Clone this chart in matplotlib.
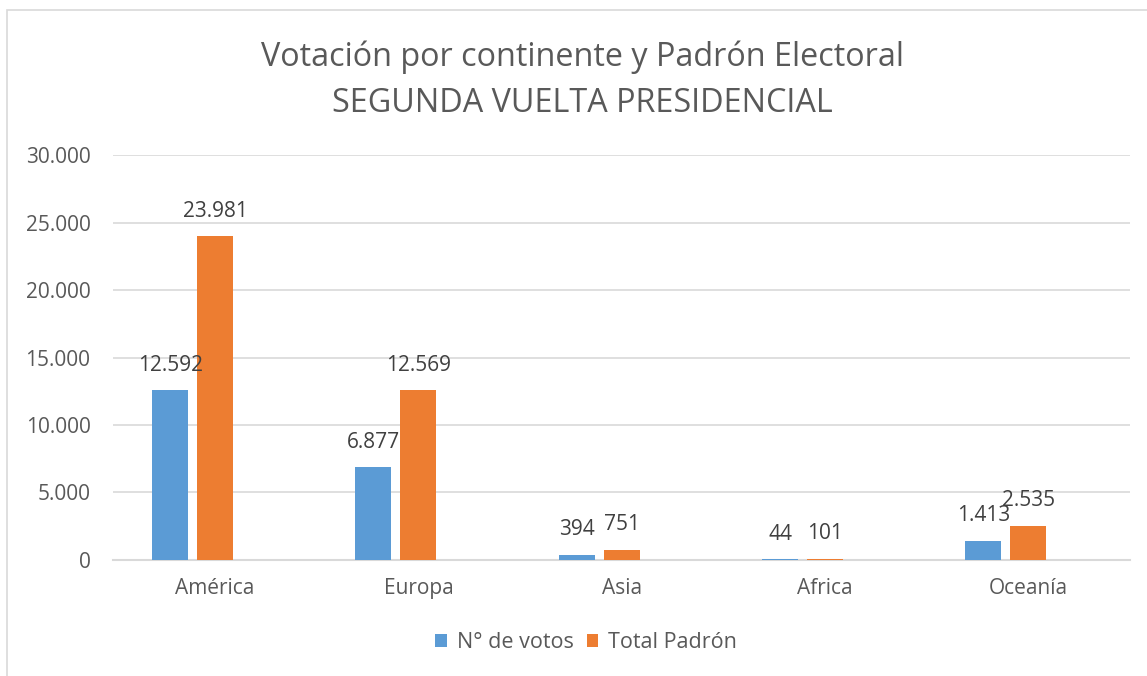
import matplotlib.pyplot as plt
import matplotlib.patches as mpatches
import numpy as np
from matplotlib.ticker import FuncFormatter

plt.rcParams['font.family'] = ['Open Sans', 'DejaVu Sans']

continentes = ["América", "Europa", "Asia", "Africa", "Oceanía"]
votos = [12592, 6877, 394, 44, 1413]
padron = [23981, 12569, 751, 101, 2535]
series_names = ["N° de votos", "Total Padrón"]

BLUE = "#5b9bd5"
ORANGE = "#ed7d31"
GRAY = "#595959"


def fmt_miles(v):
    return "{:,.0f}".format(v).replace(",", ".")


fig = plt.figure(figsize=(11.47, 6.76), dpi=100)
ax = fig.add_axes([0.0989, 0.1716, 0.8863, 0.5991])

# marco del grafico
fig.patches.append(mpatches.Rectangle((7 / 1147, -0.01), 1.1, 1 - 10 / 676 + 0.01,
                                      transform=fig.transFigure, fill=False,
                                      edgecolor="#d9d9d9", linewidth=1.2))

x = np.arange(len(continentes))
w = 0.177
off = 0.2214
b1 = ax.bar(x - off, votos, w, color=BLUE, label=series_names[0], zorder=3)
b2 = ax.bar(x, padron, w, color=ORANGE, label=series_names[1], zorder=3)

for i, v in enumerate(votos):
    ax.annotate(fmt_miles(v), (x[i] - off, v), xytext=(0, 18),
                textcoords="offset points", ha="center", va="center",
                fontsize=15, color="#404040")
for i, v in enumerate(padron):
    ax.annotate(fmt_miles(v), (x[i], v), xytext=(0, 18),
                textcoords="offset points", ha="center", va="center",
                fontsize=15, color="#404040")

ax.set_xlim(-0.5, len(continentes) - 0.5)
ax.set_ylim(0, 30000)
ax.set_yticks(np.arange(0, 30001, 5000))
ax.yaxis.set_major_formatter(FuncFormatter(lambda v, p: fmt_miles(v)))
ax.set_xticks(x)
ax.set_xticklabels(continentes)
ax.tick_params(axis="both", length=0, colors=GRAY, labelsize=15)
ax.tick_params(axis="x", pad=13)
ax.tick_params(axis="y", pad=16.5)
ax.grid(axis="y", color="#d9d9d9", linewidth=1.2, zorder=0)
for s in ["left", "right", "top"]:
    ax.spines[s].set_visible(False)
ax.spines["bottom"].set_color("#d9d9d9")
ax.spines["bottom"].set_linewidth(1.5)

fig.text(0.508, 1 - 66 / 676, "Votación por continente y Padrón Electoral",
         ha="center", va="baseline", fontsize=23.3, color=GRAY)
fig.text(0.508, 1 - 112 / 676, "SEGUNDA VUELTA PRESIDENCIAL",
         ha="center", va="baseline", fontsize=23.3, color=GRAY)

fig.legend(handles=[b1, b2], labels=series_names, loc="center",
           bbox_to_anchor=(0.511, 1 - 643 / 676), ncol=2, frameon=False,
           fontsize=15.5, labelcolor=GRAY, handlelength=0.55, handleheight=0.55,
           handletextpad=0.45, columnspacing=0.6)

fig.savefig("out.png", dpi=100)
